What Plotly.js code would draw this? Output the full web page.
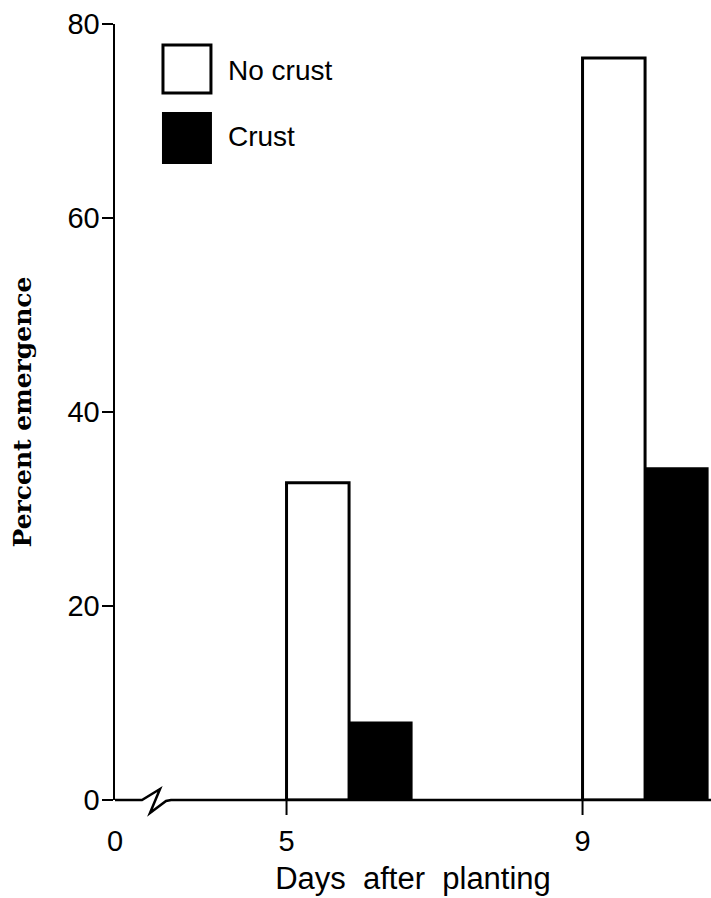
<!DOCTYPE html>
<html>
<head>
<meta charset="utf-8">
<script src="https://cdn.plot.ly/plotly-3.0.1.min.js"></script>
<style>
  html, body { margin: 0; padding: 0; background: #fff; }
  #chart { width: 711px; height: 898px; }
</style>
</head>
<body>
<div id="chart"></div>
<script>
// ---- data ----
const days = [5, 9];
const seriesNames = ["No crust", "Crust"];
const noCrust = [32.7, 76.5];
const crust = [8, 34.2];
const yTickVals = [0, 20, 40, 60, 80];
const xTickLabels = ["0", "5", "9"];

// ---- layout constants ----
const barW = 0.845;
const xStart = 2.682;   // left edge of the (broken) axis, labelled "0"
const xEnd = 10.736;
const plotH = 776;

const traces = [
  {
    type: "bar", name: seriesNames[0], x: days, y: noCrust,
    width: barW, offset: 0,
    marker: { color: "#ffffff", line: { color: "#000000", width: 3 } },
    showlegend: false, hoverinfo: "x+y+name"
  },
  {
    type: "bar", name: seriesNames[1], x: days, y: crust,
    width: barW, offset: barW,
    marker: { color: "#000000", line: { color: "#000000", width: 2 } },
    showlegend: false, hoverinfo: "x+y+name"
  }
];

const labelFont = { family: "Liberation Sans, Arial, sans-serif", size: 29, color: "#000" };
const legendFont = { family: "Liberation Sans, Arial, sans-serif", size: 28, color: "#000" };

// visible x tick marks (only at the day values, not at the broken-axis origin)
const tickShapes = days.map(d => ({
  type: "line", xref: "x", yref: "paper",
  x0: d, x1: d, y0: 0, y1: -15 / plotH,
  line: { color: "#000", width: 2 }, layer: "above"
}));

const layout = {
  width: 711, height: 898,
  margin: { l: 115, r: 0, t: 24, b: 98 },
  paper_bgcolor: "#fff", plot_bgcolor: "#fff",
  barmode: "overlay",
  showlegend: false,
  xaxis: {
    range: [xStart, xEnd],
    tickmode: "array",
    tickvals: [xStart].concat(days),
    ticktext: xTickLabels,
    ticks: "outside", ticklen: 15, tickwidth: 2, tickcolor: "rgba(0,0,0,0)",
    showline: false, zeroline: false, showgrid: false,
    tickfont: labelFont,
    title: { text: "Days\u00a0 after\u00a0 planting", font: { family: "Liberation Sans, Arial, sans-serif", size: 31, color: "#000" }, standoff: 11 },
    fixedrange: true
  },
  yaxis: {
    range: [0, 80],
    tickmode: "array", tickvals: yTickVals,
    ticks: "outside", ticklen: 11, tickwidth: 2, tickcolor: "#000",
    ticklabelstandoff: -4,
    showline: true, linewidth: 2.5, linecolor: "#000",
    zeroline: false, showgrid: false,
    tickfont: labelFont,
    title: {
      text: "Percent emergence",
      font: { family: "'DejaVu Serif', 'Liberation Serif', serif", size: 25, color: "#000", weight: "bold" },
      standoff: 29
    },
    fixedrange: true
  },
  shapes: [
    // baseline with axis break
    {
      type: "path", xref: "paper", yref: "paper", layer: "above",
      path: "M 0 0 L 0.0453 0 L 0.0755 0.01418 L 0.0587 -0.01675 L 0.0856 -0.0013 L 0.094 0 L 1 0",
      line: { color: "#000", width: 2.5 }
    },
    // legend boxes
    {
      type: "rect", xref: "paper", yref: "paper",
      x0: 0.0805, x1: 0.161, y0: 0.9111, y1: 0.9729,
      fillcolor: "#fff", line: { color: "#000", width: 3 }
    },
    {
      type: "rect", xref: "paper", yref: "paper",
      x0: 0.0805, x1: 0.161, y0: 0.8209, y1: 0.8853,
      fillcolor: "#000", line: { color: "#000", width: 2 }
    }
  ].concat(tickShapes),
  annotations: [
    { xref: "paper", yref: "paper", x: 0.186, y: 0.9407, xanchor: "left", yanchor: "middle",
      text: seriesNames[0], showarrow: false, font: legendFont },
    { xref: "paper", yref: "paper", x: 0.186, y: 0.8544, xanchor: "left", yanchor: "middle",
      text: seriesNames[1], showarrow: false, font: legendFont }
  ]
};

Plotly.newPlot("chart", traces, layout, { displayModeBar: false, staticPlot: true });
</script>
</body>
</html>
